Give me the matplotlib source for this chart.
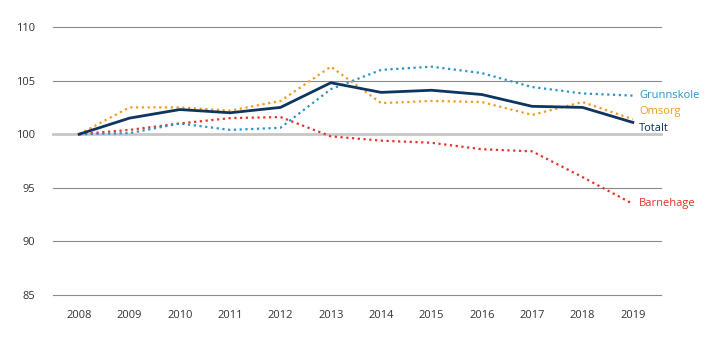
import matplotlib.pyplot as plt

years = list(range(2008, 2020))

totalt = [100, 101.5, 102.3, 102.0, 102.5, 104.8, 103.9, 104.1, 103.7, 102.6, 102.5, 101.1]
omsorg = [100, 102.5, 102.5, 102.2, 103.1, 106.3, 102.9, 103.1, 103.0, 101.8, 103.0, 101.4]
grunnskole = [100, 100.1, 101.0, 100.4, 100.6, 104.2, 106.0, 106.3, 105.7, 104.4, 103.8, 103.6]
barnehage = [100, 100.4, 101.0, 101.5, 101.6, 99.8, 99.4, 99.2, 98.6, 98.4, 96.0, 93.5]

yticks = [85, 90, 95, 100, 105, 110]

plt.rcParams['font.family'] = ['Open Sans', 'DejaVu Sans']

fig = plt.figure(figsize=(7.19, 3.41), dpi=100)
ax = fig.add_axes([53 / 719, 1 - 295 / 341, 608 / 719, 268 / 341])

# grid lines, the 100 line is lighter and thicker
for y in yticks:
    if y == 100:
        ax.axhline(y, color="#c6c6c6", linewidth=2, zorder=1, clip_on=False)
    else:
        ax.axhline(y, color="#8a8a8a", linewidth=0.8, zorder=1, clip_on=False)

blue = "#2b93c6"
orange = "#f39a1b"
red = "#e63228"
navy = "#0d3560"

ax.plot(years, barnehage, color=red, linewidth=1.6, linestyle=(0, (1, 1.6)), zorder=3)
ax.plot(years, grunnskole, color=blue, linewidth=1.6, linestyle=(0, (1, 1.6)), zorder=3)
ax.plot(years, omsorg, color=orange, linewidth=1.6, linestyle=(0, (1, 1.6)), zorder=3)
ax.plot(years, totalt, color=navy, linewidth=2, zorder=4)

lx = 2019.13
ax.text(lx, grunnskole[-1] + 0.05, "Grunnskole", color=blue, fontsize=8, va="center")
ax.text(lx, omsorg[-1] + 0.75, "Omsorg", color=orange, fontsize=8, va="center")
ax.text(lx, totalt[-1] - 0.6, "Totalt", color=navy, fontsize=8, va="center")
ax.text(lx, barnehage[-1], "Barnehage", color=red, fontsize=8, va="center")

ax.set_xlim(2007.48, 2019.56)
ax.set_ylim(85, 110)
ax.set_xticks(years)
ax.set_xticklabels([str(y) for y in years], fontsize=8, color="#333333")
ax.set_yticks(yticks)
ax.set_yticklabels([str(y) for y in yticks], fontsize=8, color="#333333")
ax.tick_params(length=0, axis="y", pad=13)
ax.tick_params(length=0, axis="x", pad=11)
for s in ax.spines.values():
    s.set_visible(False)
ax.patch.set_alpha(0)

fig.savefig("out.png", dpi=100)
